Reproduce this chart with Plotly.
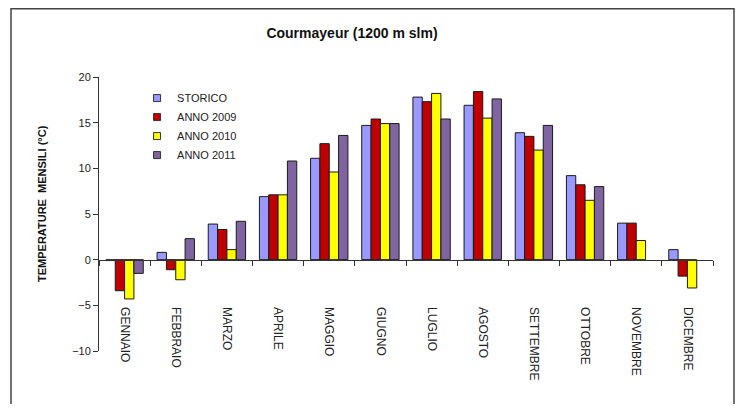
import plotly.graph_objects as go

# monthly mean temperatures, Courmayeur
mesi = ["GENNAIO", "FEBBRAIO", "MARZO", "APRILE", "MAGGIO", "GIUGNO",
        "LUGLIO", "AGOSTO", "SETTEMBRE", "OTTOBRE", "NOVEMBRE", "DICEMBRE"]
storico = [-0.1, 0.8, 3.9, 6.9, 11.1, 14.7, 17.8, 16.9, 13.9, 9.2, 4.0, 1.1]
anno_2009 = [-3.4, -1.1, 3.3, 7.1, 12.7, 15.4, 17.3, 18.4, 13.5, 8.2, 4.0, -1.8]
anno_2010 = [-4.3, -2.2, 1.1, 7.1, 9.6, 14.9, 18.2, 15.5, 12.0, 6.5, 2.1, -3.1]
anno_2011 = [-1.5, 2.3, 4.2, 10.8, 13.6, 14.9, 15.4, 17.6, 14.7, 8.0, None, None]

serie = [
    ("STORICO", storico, "#9999FF"),
    ("ANNO 2009", anno_2009, "#C00000"),
    ("ANNO 2010", anno_2010, "#FFFF00"),
    ("ANNO 2011", anno_2011, "#8064A2"),
]

FONT = "Liberation Sans, Arial, sans-serif"

# the page body has an 8px margin, keep the figure inside the window
W, H = 727, 396
L, T, PW, PH = 91, 69, 614, 274

fig = go.Figure()
for nome, valori, colore in serie:
    fig.add_trace(go.Bar(
        x=mesi, y=valori, name=nome, legendgroup=nome, showlegend=False,
        marker=dict(color=colore, line=dict(color="#1a1a1a", width=1)),
    ))
    # small square swatch for the legend
    fig.add_trace(go.Scatter(
        x=[None], y=[None], mode="markers", name=nome, legendgroup=nome,
        marker=dict(symbol="square", size=7, color=colore,
                    line=dict(color="#333", width=1)),
    ))

fig.update_layout(
    width=W, height=H,
    margin=dict(l=L, r=W-L-PW, t=T, b=H-T-PH),
    paper_bgcolor="white", plot_bgcolor="white",
    barmode="group", bargap=0.27, bargroupgap=0,
    font=dict(family=FONT, size=11, color="#222"),
    title=dict(text="<b>Courmayeur (1200 m slm)</b>", x=344/W, xref="container",
               xanchor="center", y=1-25/H, yanchor="middle",
               font=dict(family=FONT, size=14, color="#111")),
    legend=dict(x=0.062, y=0.976, xanchor="left", yanchor="top",
                bgcolor="rgba(0,0,0,0)", font=dict(size=11, color="#222"),
                tracegroupgap=0),
    showlegend=True,
)

# x axis crossing at zero (1/3 of the height for range -10..20)
fig.update_xaxes(
    anchor="free", position=1/3,
    showline=True, linecolor="#333", linewidth=1,
    ticks="outside", tickson="boundaries", ticklen=5, tickcolor="#333",
    tickangle=90, ticklabelstandoff=44,
    tickfont=dict(family=FONT, size=12, color="#222"),
    showgrid=False, zeroline=False,
)
fig.update_yaxes(
    range=[-10, 20], dtick=5, domain=[0, 1],
    showline=True, linecolor="#333", linewidth=1,
    ticks="outside", ticklen=5, tickcolor="#333",
    tickfont=dict(family=FONT, size=11, color="#222"),
    showgrid=False, zeroline=False,
)

fig.add_annotation(
    text="<b>TEMPERATURE  MENSILI (°C)</b>", textangle=-90,
    xref="paper", yref="paper", x=(34-L)/PW, y=(T+PH-196)/PH,
    xanchor="center", yanchor="middle",
    showarrow=False, font=dict(family=FONT, size=11, color="#111"),
)

# outer frame of the chart (px in figure coords -> paper)
fig.add_shape(type="rect", xref="paper", yref="paper",
              x0=(3-L)/PW, x1=(726-L)/PW,
              y0=(T+PH-410)/PH, y1=(T+PH-0.75)/PH,
              line=dict(color="#444", width=1.5), fillcolor="rgba(0,0,0,0)")

fig.write_html("out.html")
